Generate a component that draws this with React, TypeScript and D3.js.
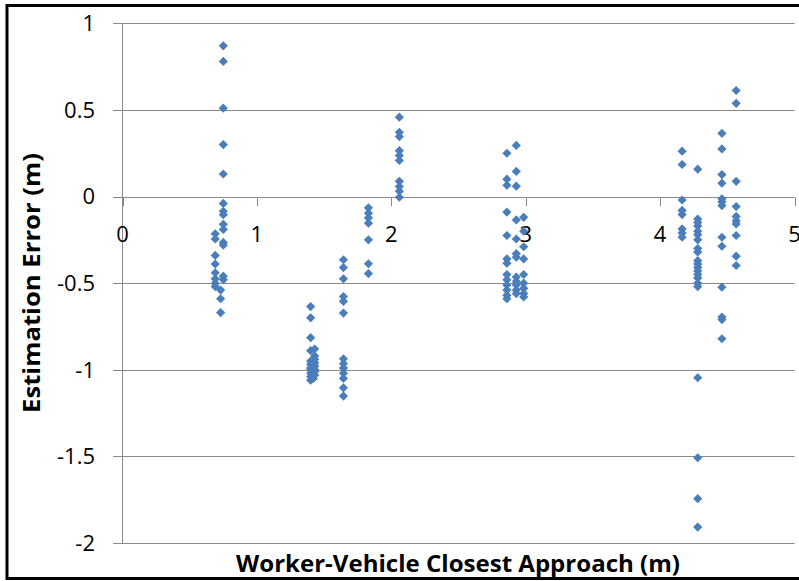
import React from "react";
import * as d3 from "d3";

// ---- data (x = closest approach, values = estimation error) ----
const xTicks = [0, 1, 2, 3, 4, 5];
const yTicks = [-2, -1.5, -1, -0.5, 0, 0.5, 1];

const col069 = [-0.215, -0.245, -0.34, -0.39, -0.44, -0.475, -0.5, -0.52];
const col073 = [-0.54, -0.59, -0.67];
const col075 = [0.87, 0.78, 0.51, 0.3, 0.13, -0.04, -0.085, -0.105, -0.16, -0.19, -0.265, -0.28, -0.46, -0.48];
const col140 = [-0.635, -0.7, -0.815, -0.89, -0.95, -0.97, -0.99, -1.0, -1.02, -1.04, -1.06];
const col142 = [-0.97, -1.0, -1.05];
const col143 = [-0.88, -0.92, -0.94, -0.96, -0.98, -1.0, -1.01, -1.03];
const col164 = [-0.365, -0.41, -0.475, -0.577, -0.605, -0.673, -0.937, -0.965, -0.99, -1.02, -1.05, -1.104, -1.152];
const col183 = [-0.065, -0.096, -0.123, -0.154, -0.25, -0.388, -0.445];
const col206 = [0.458, 0.371, 0.346, 0.265, 0.237, 0.208, 0.088, 0.058, 0.031, -0.004];
const col286 = [0.25, 0.1, 0.065, -0.09, -0.225, -0.36, -0.385, -0.45, -0.48, -0.51, -0.54, -0.57, -0.59];
const col293 = [0.295, 0.145, 0.06, -0.135, -0.245, -0.33, -0.35, -0.465, -0.49, -0.51, -0.54, -0.56];
const col2985 = [-0.12, -0.2, -0.29, -0.36, -0.45, -0.5, -0.53, -0.56, -0.58];
const col416 = [0.262, 0.185, -0.02, -0.08, -0.104, -0.187, -0.21, -0.235];
const col428 = [0.158, -0.13, -0.15, -0.17, -0.2, -0.22, -0.25, -0.3, -0.32, -0.37, -0.39, -0.41, -0.43, -0.45, -0.47, -0.5, -0.52, -1.046, -1.508, -1.744, -1.908];
const col446 = [0.365, 0.275, 0.127, 0.077, -0.013, -0.03, -0.052, -0.235, -0.287, -0.523, -0.696, -0.71, -0.821];
const col457 = [0.612, 0.538, 0.088, -0.058, -0.115, -0.14, -0.158, -0.225, -0.344, -0.398];

const columnX = [0.69, 0.73, 0.75, 1.4, 1.42, 1.43, 1.644, 1.83, 2.06, 2.86, 2.93, 2.985, 4.164, 4.28, 4.46, 4.566];
const columnValues = [col069, col073, col075, col140, col142, col143, col164, col183, col206, col286, col293, col2985, col416, col428, col446, col457];

const points = columnX.flatMap((x, i) => columnValues[i].map((y) => ({ x, y })));

const W = 799;
const H = 581;

export default function App() {
  const x = d3.scaleLinear().domain([0, 5]).range([122.5, 794.5]);
  const y = d3.scaleLinear().domain([-2, 1]).range([543, 23.3]);
  const gridColor = "#898989";
  const font = "'Open Sans', 'Liberation Sans', sans-serif";
  const s = 4.6;
  const diamond = `M0,${-s}L${s},0L0,${s}L${-s},0Z`;

  return (
    <svg
      width={W}
      height={H}
      style={{ position: "absolute", left: 0, top: 0, background: "#fff" }}
    >
      <rect x={0} y={0} width={W} height={H} fill="#fff" />
      {/* horizontal gridlines */}
      {yTicks.map((t) => (
        <line
          key={"g" + t}
          x1={113}
          x2={794.5}
          y1={Math.round(y(t)) + 0.5}
          y2={Math.round(y(t)) + 0.5}
          stroke={gridColor}
          strokeWidth={1}
        />
      ))}
      {/* y axis line */}
      <line x1={122.5} x2={122.5} y1={y(1)} y2={y(-2)} stroke={gridColor} strokeWidth={1} />
      {/* x ticks */}
      {xTicks.map((t) => (
        <line
          key={"xt" + t}
          x1={Math.round(x(t)) + 0.5}
          x2={Math.round(x(t)) + 0.5}
          y1={Math.round(y(0)) + 0.5}
          y2={Math.round(y(0)) + 9}
          stroke={gridColor}
          strokeWidth={1}
        />
      ))}
      {/* y tick labels */}
      {yTicks.map((t) => (
        <text
          key={"yl" + t}
          x={95}
          y={y(t) + 7.8}
          textAnchor="end"
          fontFamily={font}
          fontSize={22}
          fill="#000"
        >
          {d3.format("")(t).replace("−", "-")}
        </text>
      ))}
      {/* x tick labels */}
      {xTicks.map((t) => (
        <text
          key={"xl" + t}
          x={x(t)}
          y={241.8}
          textAnchor="middle"
          fontFamily={font}
          fontSize={22}
          fill="#000"
        >
          {t}
        </text>
      ))}
      {/* points */}
      {points.map((p, i) => (
        <path
          key={"p" + i}
          d={diamond}
          transform={`translate(${x(p.x)},${y(p.y)})`}
          fill="#4A7EBB"
        />
      ))}
      {/* axis titles */}
      <text
        x={458}
        y={572}
        textAnchor="middle"
        fontFamily={font}
        fontWeight="bold"
        fontSize={23}
        textLength={444}
        lengthAdjust="spacingAndGlyphs"
        fill="#000"
      >
        Worker-Vehicle Closest Approach (m)
      </text>
      <text
        transform={`translate(40,283) rotate(-90)`}
        textAnchor="middle"
        fontFamily={font}
        fontWeight="bold"
        fontSize={23}
        textLength={260}
        lengthAdjust="spacingAndGlyphs"
        fill="#000"
      >
        Estimation Error (m)
      </text>
      {/* outer frame */}
      <rect x={7} y={5.5} width={800} height={573} fill="none" stroke="#000" strokeWidth={3} />
    </svg>
  );
}
